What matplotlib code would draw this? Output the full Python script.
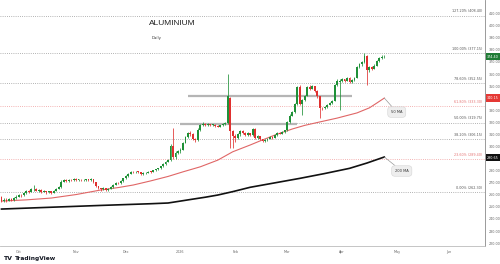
import numpy as np
import matplotlib
matplotlib.use("Agg")
import matplotlib.pyplot as plt

# daily candles, bar index 0 = mid Sept 2025, last bar = late Apr 2026
opens = [258, 255, 256, 255, 256.5, 255.5, 257, 258.5, 260, 259.5,
         261.5, 263, 262.5, 264.5, 265, 263.5, 264, 262.5, 263, 262,
         262.8, 261.8, 263.5, 265, 266.5, 271, 272, 271.2, 272.5, 272,
         273, 272.2, 272.6, 272, 272.4, 272.8, 272.3, 272.9, 270.5, 267,
         265.5, 264.5, 265.5, 264, 265, 266.5, 268.5, 270, 269.5, 271.5,
         273.5, 275.5, 277.5, 279, 278.5, 279.2, 278.8, 277.2, 277.8, 278.2,
         279.2, 279, 280.2, 281, 282, 283.5, 285.5, 287.5, 288.8, 300,
         291, 295, 296, 297.5, 303, 308, 311, 310, 306, 305,
         314, 318, 319, 317.5, 318.5, 317.8, 318.2, 317, 316.5, 317.5,
         318.5, 319.5, 340, 313, 309, 307, 310, 312.5, 311.5, 309.5,
         311, 309.5, 314.5, 307, 308.5, 306, 304.5, 305.2, 306.5, 307.8,
         307.2, 309.5, 311, 310.5, 312, 313.5, 320, 325.5, 328.5, 335,
         349, 335, 338.5, 342, 349.5, 348, 350, 346, 341.5, 332,
         331.5, 332.5, 334.5, 336, 338, 351, 353.5, 354.5, 355.5, 354.5,
         356.5, 353, 355, 357, 366, 368, 370, 375, 363, 365.5,
         364.5, 367, 370.5, 373.5, 374]
closes = [255, 256, 255, 256.5, 255.5, 257, 258.5, 260, 259.5, 261.5,
          263, 262.5, 264.5, 265, 263.5, 264, 262.5, 263, 262, 262.8,
          261.8, 263.5, 265, 266.5, 271, 272, 271.2, 272.5, 272, 273,
          272.2, 272.6, 272, 272.4, 272.8, 272.3, 272.9, 270.5, 267, 265.5,
          264.5, 265.5, 264, 265, 266.5, 268.5, 270, 269.5, 271.5, 273.5,
          275.5, 277.5, 279, 278.5, 279.2, 278.8, 277.2, 277.8, 278.2, 279.2,
          279, 280.2, 281, 282, 283.5, 285.5, 287.5, 288.8, 300, 291,
          295, 296, 297.5, 303, 308, 311, 310, 306, 305, 314,
          318, 319, 317.5, 318.5, 317.8, 318.2, 317, 316.5, 317.5, 318.5,
          319.5, 342, 313, 309, 307, 310, 312.5, 311.5, 309.5, 311,
          309.5, 314.5, 307, 308.5, 306, 304.5, 305.2, 306.5, 307.8, 307.2,
          309.5, 311, 310.5, 312, 313.5, 320, 325.5, 328.5, 335, 349,
          335, 338.5, 342, 349.5, 348, 350, 346, 341.5, 332, 331.5,
          332.5, 334.5, 336, 338, 351, 354.5, 354.5, 355.5, 354.5, 356.5,
          353, 355, 357, 366, 368, 370, 375, 363, 365.5, 364.5,
          367, 370.5, 373.5, 374, 374.4]
highs = [259, 257, 257, 257.5, 257, 258, 259.5, 261, 261, 262.5,
         264, 264, 265.5, 268, 265.5, 265, 264.5, 264, 263.5, 263.5,
         263.2, 264, 265.5, 267.5, 272, 273, 272.8, 273, 273.2, 273.8,
         274, 273.2, 273, 273, 273.4, 273.3, 273.5, 273.2, 271, 267.5,
         266, 266.2, 266, 265.6, 267, 269, 270.8, 270.8, 272, 274,
         276, 278.2, 279.8, 279.8, 279.8, 279.8, 279, 278.5, 278.8, 279.8,
         279.8, 280.8, 281.6, 282.6, 284, 286, 288.2, 289.5, 302, 315,
         296.5, 297, 298.5, 304, 309, 312, 312.5, 311, 307, 315,
         319, 320, 319.5, 319.2, 319, 319, 318.6, 317.6, 318, 319.2,
         320.5, 360, 341, 314, 310, 311, 313.5, 313.5, 312, 311.8,
         311.5, 315.5, 315, 309.5, 309, 306.5, 306, 307, 308.5, 308.5,
         310, 311.6, 311.8, 312.6, 314, 321, 326.5, 329.5, 336, 350.5,
         351, 339.5, 343, 350.5, 350.8, 351, 350.5, 347, 342, 333,
         333.5, 335, 336.8, 338.8, 352, 355.5, 356, 356.5, 356.2, 357.2,
         357.5, 355.8, 357.8, 367, 369, 371, 377.5, 376, 366.5, 366.5,
         368, 371.5, 374.5, 375.5, 375.5]
lows = [254, 254, 254, 254.5, 254.5, 255, 256.5, 258, 258.5, 259,
        261, 261.5, 262, 263.5, 263, 262.5, 261.5, 262, 261, 261.5,
        261, 261.5, 263, 264.5, 266, 270.5, 270.5, 270.8, 271.2, 271.5,
        271.5, 271.6, 271.4, 271.5, 271.8, 271.7, 271.8, 270, 266.2, 264.5,
        263.5, 263.8, 263.2, 263.5, 264.5, 266, 268, 268.8, 269, 271,
        273, 275, 277, 277.8, 278, 278.2, 276.5, 276.8, 277.2, 277.8,
        278.4, 278.6, 279.8, 280.5, 281.5, 283, 285, 287, 288, 289.5,
        290, 294, 295, 297, 302.5, 307, 309, 305, 304, 304.5,
        313, 317, 316.8, 317, 317, 317.2, 316.2, 315.8, 316, 317,
        318, 318.5, 299, 299, 304, 306, 309, 310.5, 308.5, 308.8,
        308.5, 309, 306, 306, 305, 303.5, 303.5, 304.5, 306, 306.5,
        306.8, 309, 310, 310, 311.5, 313, 319.5, 325, 328, 334,
        334, 326, 337.5, 341.5, 347, 347.5, 345, 340.5, 324, 330.5,
        330.8, 332, 334, 335.5, 337.5, 350.5, 330, 353.5, 353.5, 354,
        352.5, 352.5, 354.5, 356.5, 365, 367, 369.5, 351, 362, 363.5,
        364, 366.5, 370, 372.5, 373.5]

# moving averages (bar index, value)
ma50_idx = [0, 10, 20, 30, 40, 47, 53, 60, 67, 73, 80, 87, 93, 100,
            104, 110, 117, 122, 128, 135, 143, 148, 151, 154]
ma50_val = [254.8, 255.8, 257.3, 260.2, 264.0, 266.0, 268.1, 271.5, 275.2,
            279.0, 283.2, 288.7, 295.6, 301.2, 304.6, 309.5, 314.5, 317.5,
            320.3, 323.5, 327.8, 332.0, 336.0, 340.1]
ma200_idx = [0, 20, 40, 60, 67, 72, 76, 82, 87, 93, 100, 110, 120, 130,
             140, 147, 154]
ma200_val = [248.2, 249.7, 251.2, 252.6, 253.2, 254.8, 256.1, 258.0, 259.8,
             262.6, 266.2, 269.9, 273.6, 277.6, 281.9, 286.3, 291.3]

# fibonacci retracement levels
fib_pct = ["127.20%", "100.00%", "78.60%", "61.80%", "50.00%", "38.20%", "23.60%", "0.00%"]
fib_val = [408.40, 377.15, 352.55, 333.30, 319.75, 306.15, 289.40, 262.30]
fib_red = [False, False, False, True, False, False, True, False]

# support / resistance zones
zone_lvl = [342.0, 318.6]
zone_from = [75, 72]
zone_to = [141, 119]

month_pos = [7, 30, 50, 72, 94, 115, 137, 159, 180]
month_lab = ["Oct", "Nov", "Dec", "2026", "Feb", "Mar", "Apr", "May", "Jun"]
yticks = [220, 230, 240, 250, 260, 270, 280, 300, 310, 320, 330, 350,
          360, 370, 380, 390, 400, 410]

last_price = 374.40
ma50_last = 340.15
ma200_last = 290.65

GREEN = "#1f9138"
RED = "#e0302f"

fig = plt.figure(figsize=(5, 2.64), dpi=100)
ax = fig.add_axes([0, 18 / 264, 485 / 500, 246 / 264])

o = np.array(opens)
c = np.array(closes)
x = np.arange(len(o))
up = c >= o
col = np.where(up, GREEN, RED)

# fib lines
for pct, val, red in zip(fib_pct, fib_val, fib_red):
    lc = "#ef9a9a" if red else "#9a9a9a"
    tc = "#e57373" if red else "#555555"
    ax.axhline(val, color=lc, lw=0.6, ls=(0, (1, 1.6)), zorder=1)
    ax.annotate(f"{pct} ({val:.2f})", xy=(0.995, val), xycoords=("axes fraction", "data"),
                xytext=(0, 1.6), textcoords="offset points", ha="right", va="bottom",
                fontsize=2.4, color=tc, zorder=2)

for lvl, a, b in zip(zone_lvl, zone_from, zone_to):
    ax.hlines(lvl, a, b, color="#b5b5b5", lw=1.6, zorder=2)

ax.plot(ma50_idx, ma50_val, color="#e06666", lw=0.8, zorder=3)
ax.plot(ma200_idx, ma200_val, color="#111111", lw=1.2, zorder=3)

ax.vlines(x, lows, highs, colors=col, lw=0.55, zorder=4)
body = np.maximum(np.abs(c - o), 0.5)
ax.bar(x, body, bottom=np.minimum(o, c), width=0.75, color=col, lw=0, zorder=5)

# MA call-outs
for txt, xy, xyt in [("50 MA", (ma50_idx[-1], ma50_val[-1]), (159, 328.5)),
                     ("200 MA", (ma200_idx[-1], ma200_val[-1]), (161, 279.7))]:
    ax.annotate(txt, xy=xy, xytext=xyt, fontsize=2.6, color="#333333",
                ha="center", va="center", zorder=6,
                bbox=dict(boxstyle="round,pad=0.9", fc="#eeeeee", ec="#d5d5d5", lw=0.4),
                arrowprops=dict(arrowstyle="-", color="#999999", lw=0.5,
                                shrinkA=0, shrinkB=0))

ax.text(59.5, 402, "ALUMINIUM", fontsize=6, family="Liberation Sans",
        color="#222222", ha="left", va="center")
ax.text(60.5, 389.5, "Daily", fontsize=2.8, color="#333333", ha="left", va="center")

ax.set_xlim(-0.6, 194.5)
ax.set_ylim(217.6, 421.3)

ax.yaxis.tick_right()
ax.set_yticks(yticks)
ax.set_yticklabels([f"{v:.2f}" for v in yticks])
ax.tick_params(axis="y", length=0, pad=3, labelsize=2.4, labelcolor="#666666")
ax.set_xticks(month_pos)
ax.set_xticklabels(month_lab)
ax.tick_params(axis="x", length=0, pad=3, labelsize=2.4, labelcolor="#666666")

for side in ["top", "left"]:
    ax.spines[side].set_visible(False)
ax.spines["right"].set_color("#8a8a8a")
ax.spines["bottom"].set_color("#bbbbbb")
ax.spines["right"].set_linewidth(0.6)
ax.spines["bottom"].set_linewidth(0.6)

# price tags on the scale
for val, fc in [(last_price, "#1e7b34"), (ma50_last, "#e53935"), (ma200_last, "#111111")]:
    ax.annotate(f"{val:.2f}", xy=(1.0, val), xycoords=("axes fraction", "data"),
                xytext=(1.6, 0), textcoords="offset points", ha="left", va="center",
                fontsize=2.4, color="white", annotation_clip=False, zorder=7,
                bbox=dict(boxstyle="square,pad=0.5", fc=fc, ec="none"))

fig.text(0.006, 0.012, "TV", fontsize=4.5, weight="bold", color="#131722", va="bottom")
fig.text(0.03, 0.012, "TradingView", fontsize=4.2, weight="bold", color="#131722", va="bottom")

fig.savefig("out.png", dpi=100, facecolor="white")
